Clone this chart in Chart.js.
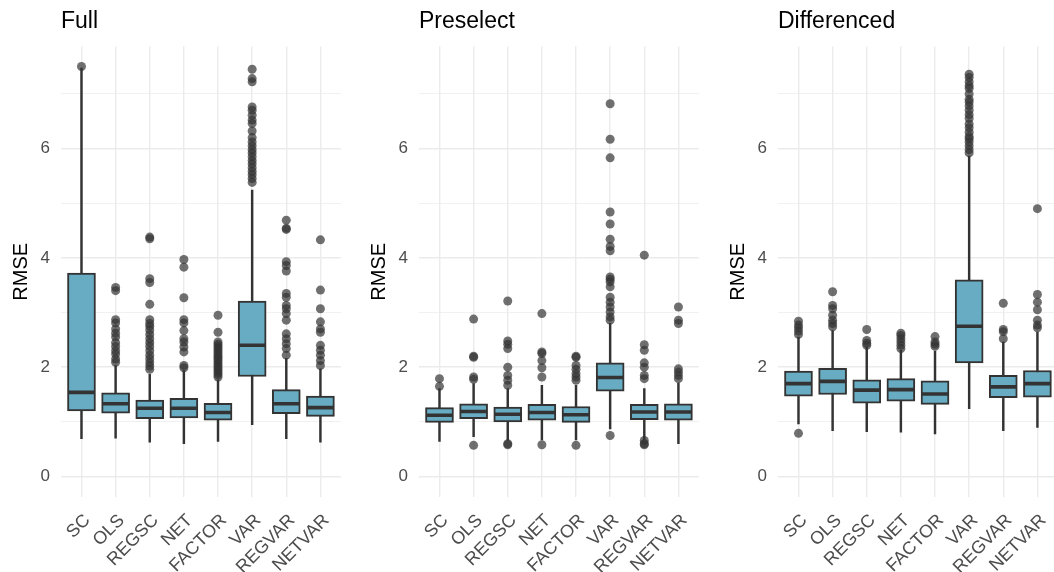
<!DOCTYPE html>
<html>
<head>
<meta charset="utf-8">
<script src="https://cdn.jsdelivr.net/npm/chart.js@4/dist/chart.umd.min.js"></script>
<style>
  body { margin: 0; width: 1054px; height: 572px; overflow: hidden; position: relative; background: #fff; }
  .panel { position: absolute; top: 0; width: 358px; height: 572px; }
</style>
</head>
<body>
<div class="panel" style="left:0px"><canvas id="c0" width="358" height="572"></canvas></div>
<div class="panel" style="left:358px"><canvas id="c1" width="358" height="572"></canvas></div>
<div class="panel" style="left:717px"><canvas id="c2" width="358" height="572"></canvas></div>
<script>
const methods = ['SC', 'OLS', 'REGSC', 'NET', 'FACTOR', 'VAR', 'REGVAR', 'NETVAR']
const panelTitles = ['Full', 'Preselect', 'Differenced']
const yTicks = [0, 1, 2, 3, 4, 5, 6, 7]

// [lower whisker, q1, median, q3, upper whisker]
const fullBox = [
  [0.69, 1.20, 1.54, 3.72, 7.47],
  [0.70, 1.16, 1.33, 1.53, 2.03],
  [0.63, 1.06, 1.25, 1.40, 1.87],
  [0.60, 1.07, 1.25, 1.43, 1.94],
  [0.64, 1.03, 1.17, 1.34, 1.77],
  [0.95, 1.83, 2.40, 3.21, 5.24],
  [0.69, 1.15, 1.33, 1.59, 2.16],
  [0.63, 1.10, 1.26, 1.47, 1.97],
]
const fullOutliers = [
  [7.50],
  [3.46, 3.40, 2.87, 2.81, 2.70, 2.62, 2.55, 2.45, 2.38, 2.30, 2.24, 2.15, 2.09],
  [4.38, 4.35, 3.62, 3.55, 3.15, 2.87, 2.80, 2.75, 2.68, 2.60, 2.52, 2.45, 2.38, 2.30, 2.22, 2.15, 2.08, 2.02, 1.96],
  [3.97, 3.83, 3.27, 2.87, 2.81, 2.67, 2.52, 2.46, 2.37, 2.28, 2.03, 1.99],
  [2.95, 2.64, 2.46, 2.42, 2.38, 2.34, 2.30, 2.26, 2.22, 2.18, 2.14, 2.10, 2.06, 2.02, 1.98, 1.94, 1.90, 1.86, 1.82],
  [7.45, 7.28, 7.22, 6.76, 6.70, 6.61, 6.52, 6.46, 6.32, 6.20, 6.12, 6.05, 5.98, 5.92, 5.85, 5.78, 5.72, 5.65, 5.58, 5.52, 5.45, 5.38],
  [4.69, 4.54, 4.52, 3.93, 3.86, 3.76, 3.35, 3.28, 3.13, 3.07, 2.98, 2.86, 2.61, 2.52, 2.43, 2.34, 2.22],
  [4.33, 3.41, 3.07, 2.83, 2.70, 2.64, 2.40, 2.31, 2.22, 2.12, 2.03],
]

const preselectBox = [
  [0.64, 0.99, 1.12, 1.26, 1.61],
  [0.73, 1.06, 1.19, 1.33, 1.70],
  [0.66, 1.00, 1.14, 1.27, 1.61],
  [0.67, 1.03, 1.17, 1.32, 1.67],
  [0.67, 0.99, 1.13, 1.28, 1.67],
  [0.87, 1.56, 1.81, 2.08, 2.80],
  [0.67, 1.04, 1.18, 1.32, 1.61],
  [0.60, 1.03, 1.18, 1.33, 1.71],
]
const preselectOutliers = [
  [1.79, 1.65],
  [2.88, 2.20, 2.18, 1.82, 1.78, 0.57],
  [3.21, 2.48, 2.42, 2.34, 2.00, 1.85, 1.76, 1.67, 0.60, 0.58],
  [2.98, 2.28, 2.25, 2.12, 1.99, 1.82, 0.58],
  [2.20, 2.18, 2.03, 1.96, 1.88, 1.82, 1.76, 0.57],
  [6.82, 6.17, 5.83, 4.84, 4.62, 4.34, 4.21, 4.13, 3.65, 3.61, 3.56, 3.47, 3.28, 3.19, 3.10, 3.01, 2.92, 2.86, 0.75],
  [4.05, 2.41, 2.31, 2.08, 2.00, 1.85, 1.79, 0.66, 0.60, 0.58],
  [3.10, 2.86, 2.80, 1.97, 1.91, 1.85, 1.79],
]

const differencedBox = [
  [0.96, 1.47, 1.70, 1.93, 2.55],
  [0.84, 1.50, 1.74, 1.98, 2.67],
  [0.82, 1.34, 1.58, 1.77, 2.37],
  [0.81, 1.38, 1.59, 1.79, 2.31],
  [0.78, 1.32, 1.51, 1.75, 2.29],
  [1.24, 2.08, 2.75, 3.60, 5.86],
  [0.84, 1.44, 1.64, 1.85, 2.46],
  [0.90, 1.45, 1.70, 1.94, 2.64],
]
const differencedOutliers = [
  [2.84, 2.77, 2.72, 2.66, 2.60, 0.79],
  [3.38, 3.13, 3.07, 2.95, 2.86, 2.80, 2.74],
  [2.69, 2.49, 2.44, 2.40],
  [2.62, 2.58, 2.52, 2.46, 2.40, 2.34],
  [2.56, 2.46, 2.42, 2.38],
  [7.36, 7.30, 7.22, 7.15, 7.10, 7.00, 6.90, 6.85, 6.78, 6.70, 6.62, 6.55, 6.45, 6.38, 6.30, 6.22, 6.18, 6.12, 6.05, 5.98, 5.92],
  [3.17, 2.69, 2.65, 2.52],
  [4.90, 3.33, 3.19, 3.05, 2.86, 2.77, 2.72],
]

const panelBoxes = [fullBox, preselectBox, differencedBox]
const panelOutliers = [fullOutliers, preselectOutliers, differencedOutliers]

const fontFamily = '"Liberation Sans", Arial, sans-serif'
const boxFill = '#67acc2'
const darkLine = '#333333'
const gridColor = '#ebebeb'

function makeDatasets (boxes, outliers) {
  const points = []
  outliers.forEach(function (list, i) {
    list.forEach(function (v) { points.push({ x: i, y: v }) })
  })
  // first dataset is drawn on top
  return [
    {
      type: 'scatter',
      data: points,
      pointRadius: 4.5,
      pointBackgroundColor: 'rgba(51,51,51,0.7)',
      pointBorderWidth: 0,
    },
    {
      type: 'scatter',
      data: boxes.map((b, i) => ({ x: i, y: b[2] })),
      pointStyle: 'line',
      pointRadius: 13.5,
      pointBorderWidth: 3.6,
      pointBorderColor: darkLine,
    },
    {
      type: 'bar',
      data: boxes.map((b, i) => ({ x: i, y: [b[1], b[3]] })),
      backgroundColor: boxFill,
      borderColor: darkLine,
      borderWidth: 2,
      borderSkipped: false,
      barThickness: 28,
      grouped: false,
    },
    {
      type: 'bar',
      data: boxes.map((b, i) => ({ x: i, y: [b[0], b[4]] })),
      backgroundColor: darkLine,
      borderWidth: 0,
      barThickness: 1.8,
      grouped: false,
    },
  ]
}

for (let p = 0; p < 3; p++) {
  const ctx = document.getElementById('c' + p).getContext('2d')
  new Chart(ctx, {
    type: 'bar',
    data: { datasets: makeDatasets(panelBoxes[p], panelOutliers[p]) },
    options: {
      responsive: false,
      animation: false,
      devicePixelRatio: 1,
      layout: { padding: { left: 0, right: 10, top: 0, bottom: 0 } },
      plugins: {
        legend: { display: false },
        tooltip: { enabled: false },
        title: {
          display: true,
          text: panelTitles[p],
          align: 'start',
          fullSize: false,
          color: '#000',
          font: { family: fontFamily, size: 23, weight: 'normal' },
          padding: { top: 8, bottom: 11 },
        },
      },
      scales: {
        x: {
          type: 'linear',
          min: -0.6,
          max: 7.6,
          offset: false,
          afterBuildTicks: function (scale) {
            scale.ticks = methods.map((m, i) => ({ value: i }))
          },
          afterFit: function (scale) { scale.height = 75 },
          ticks: {
            callback: (v) => methods[v],
            minRotation: 45,
            maxRotation: 45,
            autoSkip: false,
            padding: 13,
            labelOffset: 6,
            color: '#4d4d4d',
            font: { family: fontFamily, size: 18 },
          },
          grid: { color: gridColor, lineWidth: 1.4, drawTicks: false, offset: false },
          border: { display: false },
        },
        y: {
          type: 'linear',
          min: -0.375,
          max: 7.865,
          afterBuildTicks: function (scale) {
            scale.ticks = yTicks.map((v) => ({ value: v }))
          },
          afterFit: function (scale) { scale.width = 61 },
          ticks: {
            callback: (v) => (v % 2 === 0 ? String(v) : ''),
            padding: 11,
            color: '#4d4d4d',
            font: { family: fontFamily, size: 17 },
          },
          grid: {
            color: gridColor,
            lineWidth: (c) => (c.tick && c.tick.value % 2 ? 0.7 : 1.4),
            drawTicks: false,
          },
          border: { display: false },
          title: {
            display: true,
            text: 'RMSE',
            color: '#000',
            font: { family: fontFamily, size: 20 },
            padding: { top: 9, bottom: 0 },
          },
        },
      },
    },
  })
}
</script>
</body>
</html>
